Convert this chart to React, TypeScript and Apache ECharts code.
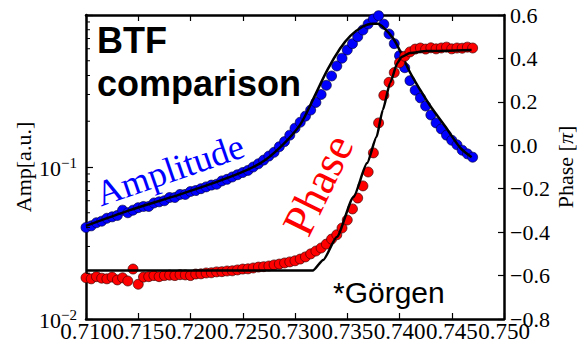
import React, { useEffect, useRef } from "react";
import * as echarts from "echarts";

const freq = [
  0.71, 0.7105, 0.711, 0.7115, 0.712, 0.7125, 0.713, 0.7135, 0.714, 0.7145,
  0.715, 0.7155, 0.716, 0.7165, 0.717, 0.7175, 0.718, 0.7185, 0.719, 0.7195,
  0.72, 0.7205, 0.721, 0.7215, 0.722, 0.7225, 0.723, 0.7235, 0.724, 0.7245,
  0.725, 0.7255, 0.726, 0.7265, 0.727, 0.7275, 0.728, 0.7285, 0.729, 0.7295,
  0.73, 0.7305, 0.731, 0.7315, 0.732, 0.7325, 0.733, 0.7335, 0.734, 0.7345,
  0.735, 0.7355, 0.736, 0.7365, 0.737, 0.7375, 0.738, 0.7385, 0.739, 0.7395,
  0.74, 0.7405, 0.741, 0.7415, 0.742, 0.7425, 0.743, 0.7435, 0.744, 0.7445,
  0.745, 0.7455, 0.746, 0.7465, 0.747,
];

const amplitude = [
  0.04, 0.041, 0.043, 0.044, 0.046, 0.047, 0.048, 0.052, 0.05, 0.052,
  0.054, 0.055, 0.055, 0.058, 0.059, 0.06, 0.063, 0.063, 0.066, 0.066,
  0.069, 0.07, 0.072, 0.074, 0.076, 0.077, 0.081, 0.083, 0.086, 0.089,
  0.092, 0.095, 0.1, 0.105, 0.111, 0.118, 0.125, 0.136, 0.147, 0.162,
  0.18, 0.197, 0.216, 0.237, 0.266, 0.3, 0.345, 0.397, 0.462, 0.52,
  0.589, 0.648, 0.72, 0.797, 0.873, 0.941, 0.99, 0.87, 0.75, 0.648,
  0.54, 0.45, 0.37, 0.32, 0.285, 0.252, 0.22, 0.195, 0.178, 0.162,
  0.15, 0.14, 0.129, 0.122, 0.116,
];

const phase = [
  -0.61, -0.615, -0.605, -0.612, -0.615, -0.607, -0.62, -0.61, -0.625, -0.57,
  -0.64, -0.607, -0.605, -0.6, -0.605, -0.6, -0.598, -0.6, -0.596, -0.597,
  -0.6, -0.593, -0.592, -0.588, -0.587, -0.583, -0.582, -0.579, -0.578, -0.574,
  -0.57, -0.569, -0.565, -0.561, -0.559, -0.556, -0.551, -0.547, -0.542, -0.537,
  -0.532, -0.524, -0.514, -0.5, -0.487, -0.473, -0.455, -0.432, -0.412, -0.381,
  -0.344, -0.293, -0.243, -0.187, -0.123, -0.035, 0.103, 0.23, 0.29, 0.335,
  0.38, 0.41, 0.43, 0.443, 0.448, 0.443, 0.449, 0.444, 0.448, 0.452,
  0.444, 0.448, 0.447, 0.452, 0.448,
];

const ampFitX = [
  0.71, 0.7142, 0.719, 0.7238, 0.7267, 0.7286, 0.7305, 0.7317, 0.7331, 0.7343,
  0.7353, 0.7365, 0.7374, 0.7379, 0.7386, 0.7394, 0.74, 0.741, 0.742, 0.7429,
  0.7444, 0.7458, 0.7469,
];
const ampFitY = [
  0.041, 0.052, 0.066, 0.086, 0.106, 0.135, 0.19, 0.276, 0.435, 0.6,
  0.73, 0.84, 0.875, 0.875, 0.81, 0.7, 0.59, 0.42, 0.32, 0.255,
  0.184, 0.134, 0.116,
];

const phaseFitX = [
  0.71, 0.7317, 0.7327, 0.734, 0.7356, 0.7369, 0.7378, 0.7384, 0.7391, 0.7398,
  0.7402, 0.741, 0.7426, 0.7469,
];
const phaseFitY = [
  -0.577, -0.577, -0.528, -0.422, -0.238, -0.082, 0.038, 0.163, 0.287, 0.379,
  0.407, 0.425, 0.434, 0.439,
];

const logMinorTicks = [
  0.02, 0.03, 0.04, 0.05, 0.06, 0.07, 0.08, 0.09,
  0.2, 0.3, 0.4, 0.5, 0.6, 0.7, 0.8, 0.9,
];

const SERIF = '"Liberation Serif", "Times New Roman", serif';
const SANS = '"Liberation Sans", Arial, sans-serif';

export default function App() {
  const ref = useRef<HTMLDivElement>(null);

  useEffect(() => {
    if (!ref.current) return;
    const chart = echarts.init(ref.current, undefined, { renderer: "svg" });

    const axisLine = { show: true, onZero: false, lineStyle: { color: "#000", width: 2.5 } };
    const xBase = {
      type: "value",
      min: 0.71,
      max: 0.75,
      interval: 0.005,
      axisLine,
      splitLine: { show: false },
      axisTick: { inside: true, length: 6, lineStyle: { color: "#000", width: 1.2 } },
    };

    const option: any = {
      animation: false,
      backgroundColor: "#fff",
      grid: { left: 86, right: 73, top: 15, bottom: 24 },
      xAxis: [
        {
          ...xBase,
          position: "bottom",
          axisLabel: {
            formatter: (v: number) => v.toFixed(3),
            fontFamily: SERIF,
            fontSize: 23,
            color: "#000",
            margin: 1,
          },
        },
        {
          ...xBase,
          position: "top",
          axisLabel: { show: false },
        },
      ],
      yAxis: [
        {
          type: "log",
          logBase: 10,
          min: 0.01,
          max: 1,
          splitNumber: 2,
          position: "left",
          axisLine,
          splitLine: { show: false },
          axisTick: { inside: true, length: 7, lineStyle: { color: "#000", width: 1.2 } },
          axisLabel: {
            margin: 9,
            color: "#000",
            formatter: (v: number) => {
              const e = Math.round(Math.log10(v));
              if (e >= 0) return "";
              return `{b|10}{s|${e < 0 ? "−" : ""}${Math.abs(e)}}`;
            },
            rich: {
              b: { fontFamily: SERIF, fontSize: 22, color: "#000", verticalAlign: "bottom", lineHeight: 24 },
              s: { fontFamily: SERIF, fontSize: 15, color: "#000", verticalAlign: "top", lineHeight: 24, padding: [0, 0, 10, 0] },
            },
          },
        },
        {
          type: "value",
          min: -0.8,
          max: 0.6,
          interval: 0.2,
          position: "right",
          axisLine,
          splitLine: { show: false },
          axisTick: { inside: true, length: 6, lineStyle: { color: "#000", width: 1.2 } },
          axisLabel: {
            margin: 6,
            color: "#000",
            fontFamily: SERIF,
            fontSize: 22,
            formatter: (v: number) => (v < -1e-9 ? "−" : "") + Math.abs(v).toFixed(1),
          },
        },
      ],
      series: [
        {
          type: "scatter",
          xAxisIndex: 0,
          yAxisIndex: 0,
          data: freq.map((f, i) => [f, amplitude[i]]),
          symbol: "circle",
          symbolSize: 10,
          itemStyle: { color: "#0000ff", borderColor: "rgba(0,0,60,0.85)", borderWidth: 0.8, opacity: 1 },
          z: 2,
        },
        {
          type: "line",
          xAxisIndex: 0,
          yAxisIndex: 0,
          data: ampFitX.map((f, i) => [f, ampFitY[i]]),
          showSymbol: false,
          smooth: 0.3,
          lineStyle: { color: "#000", width: 2.5 },
          z: 3,
        },
        {
          type: "scatter",
          xAxisIndex: 0,
          yAxisIndex: 1,
          data: freq.map((f, i) => [f, phase[i]]),
          symbol: "circle",
          symbolSize: 10,
          itemStyle: { color: "#ff0000", borderColor: "rgba(60,0,0,0.85)", borderWidth: 0.8, opacity: 1 },
          z: 4,
        },
        {
          type: "line",
          xAxisIndex: 0,
          yAxisIndex: 1,
          data: phaseFitX.map((f, i) => [f, phaseFitY[i]]),
          showSymbol: false,
          smooth: 0.2,
          smoothMonotone: "x",
          lineStyle: { color: "#000", width: 2.5 },
          z: 5,
        },
        {
          type: "custom",
          xAxisIndex: 0,
          yAxisIndex: 0,
          data: logMinorTicks.map((v) => [0.71, v]),
          clip: false,
          silent: true,
          z: 6,
          renderItem: (params: any, api: any) => {
            const p = api.coord([api.value(0), api.value(1)]);
            return {
              type: "line",
              shape: { x1: p[0], y1: p[1], x2: p[0] + 4, y2: p[1] },
              style: { stroke: "#000", lineWidth: 1 },
            };
          },
        },
      ],
      graphic: [
        {
          type: "text",
          x: 97,
          y: 40,
          style: { text: "BTF", fontFamily: SANS, fontWeight: "bold", fontSize: 36, fill: "#000", textVerticalAlign: "middle" },
        },
        {
          type: "text",
          x: 97,
          y: 83,
          style: { text: "comparison", fontFamily: SANS, fontWeight: "bold", fontSize: 36, fill: "#000", textVerticalAlign: "middle" },
        },
        {
          type: "text",
          x: 333,
          y: 292,
          style: { text: "*Görgen", fontFamily: SANS, fontSize: 30, fill: "#000", textVerticalAlign: "middle" },
        },
        {
          type: "text",
          x: 170,
          y: 170,
          rotation: (19 * Math.PI) / 180,
          style: { text: "Amplitude", fontFamily: SERIF, fontSize: 36, fill: "#0000ff", textAlign: "center", textVerticalAlign: "middle" },
        },
        {
          type: "text",
          x: 318,
          y: 185,
          rotation: (64 * Math.PI) / 180,
          style: { text: "Phase", fontFamily: SERIF, fontSize: 45, fill: "#ff0000", textAlign: "center", textVerticalAlign: "middle" },
        },
        {
          type: "text",
          x: 23,
          y: 167,
          rotation: Math.PI / 2,
          style: { text: "Amp[a.u.]", fontFamily: SERIF, fontSize: 22, fill: "#000", textAlign: "center", textVerticalAlign: "middle" },
        },
        {
          type: "text",
          x: 565,
          y: 167,
          rotation: Math.PI / 2,
          style: {
            text: "Phase [{i|π}]",
            fontFamily: SERIF,
            fontSize: 22,
            fill: "#000",
            textAlign: "center",
            textVerticalAlign: "middle",
            rich: { i: { fontFamily: SERIF, fontSize: 22, fontStyle: "italic", fill: "#000" } },
          },
        },
      ],
    };

    chart.setOption(option);
    return () => chart.dispose();
  }, []);

  return <div ref={ref} style={{ width: 577, height: 343, position: "absolute", left: 0, top: 0 }} />;
}
